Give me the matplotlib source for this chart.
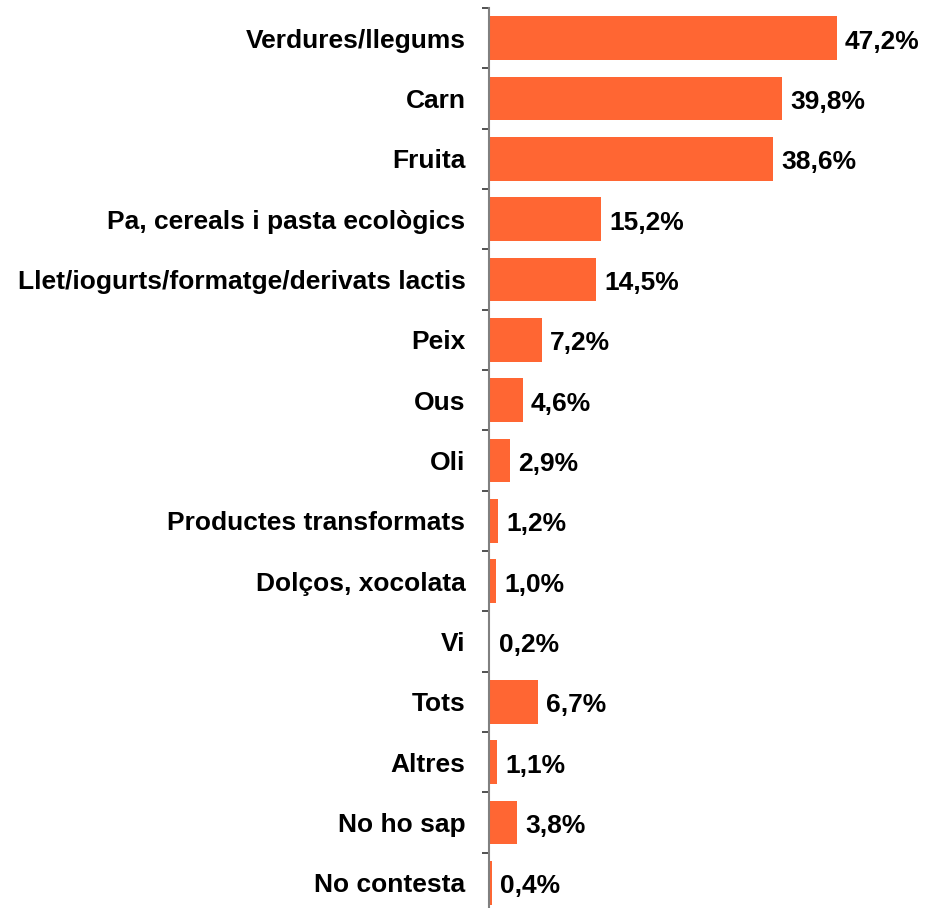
import numpy as np
from matplotlib import pyplot as plt
from matplotlib.ticker import FixedLocator

categories = ['Verdures/llegums', 'Carn', 'Fruita', 'Pa, cereals i pasta ecològics',
              'Llet/iogurts/formatge/derivats lactis', 'Peix', 'Ous', 'Oli',
              'Productes transformats', 'Dolços, xocolata', 'Vi', 'Tots',
              'Altres', 'No ho sap', 'No contesta']
values = [47.2, 39.8, 38.6, 15.2, 14.5, 7.2, 4.6, 2.9, 1.2, 1.0, 0.2, 6.7, 1.1, 3.8, 0.4]

plt.rcParams['font.family'] = ['Liberation Sans', 'DejaVu Sans']

fig = plt.figure(figsize=(9.38, 9.08), dpi=100, facecolor='w')
ax = fig.add_axes([489 / 938, -5 / 908, 1 - 489 / 938, 905 / 908])

y = np.arange(len(categories))
ax.barh(y, values, height=0.72, color='#FF6633')
ax.set_ylim(len(categories) - 0.5, -0.5)
ax.set_xlim(0, 449 / 7.37)

for yi, v in zip(y, values):
    ax.text(v + 1.1, yi + 0.06, ('%.1f%%' % v).replace('.', ','),
            va='center', ha='left', fontsize=19, fontweight='bold')

ax.set_yticks(y)
ax.set_yticklabels(categories, fontsize=19, fontweight='bold')
ax.yaxis.set_minor_locator(FixedLocator(np.arange(len(categories) + 1) - 0.5))
ax.tick_params(axis='y', which='major', length=0, pad=17)
ax.tick_params(axis='y', which='minor', length=5, width=1.2, color='#333333', direction='out')

ax.set_xticks([])
for s in ['top', 'right', 'bottom']:
    ax.spines[s].set_visible(False)
ax.spines['left'].set_color('#808080')
ax.spines['left'].set_linewidth(1.5)

plt.savefig('out.png', dpi=100)
